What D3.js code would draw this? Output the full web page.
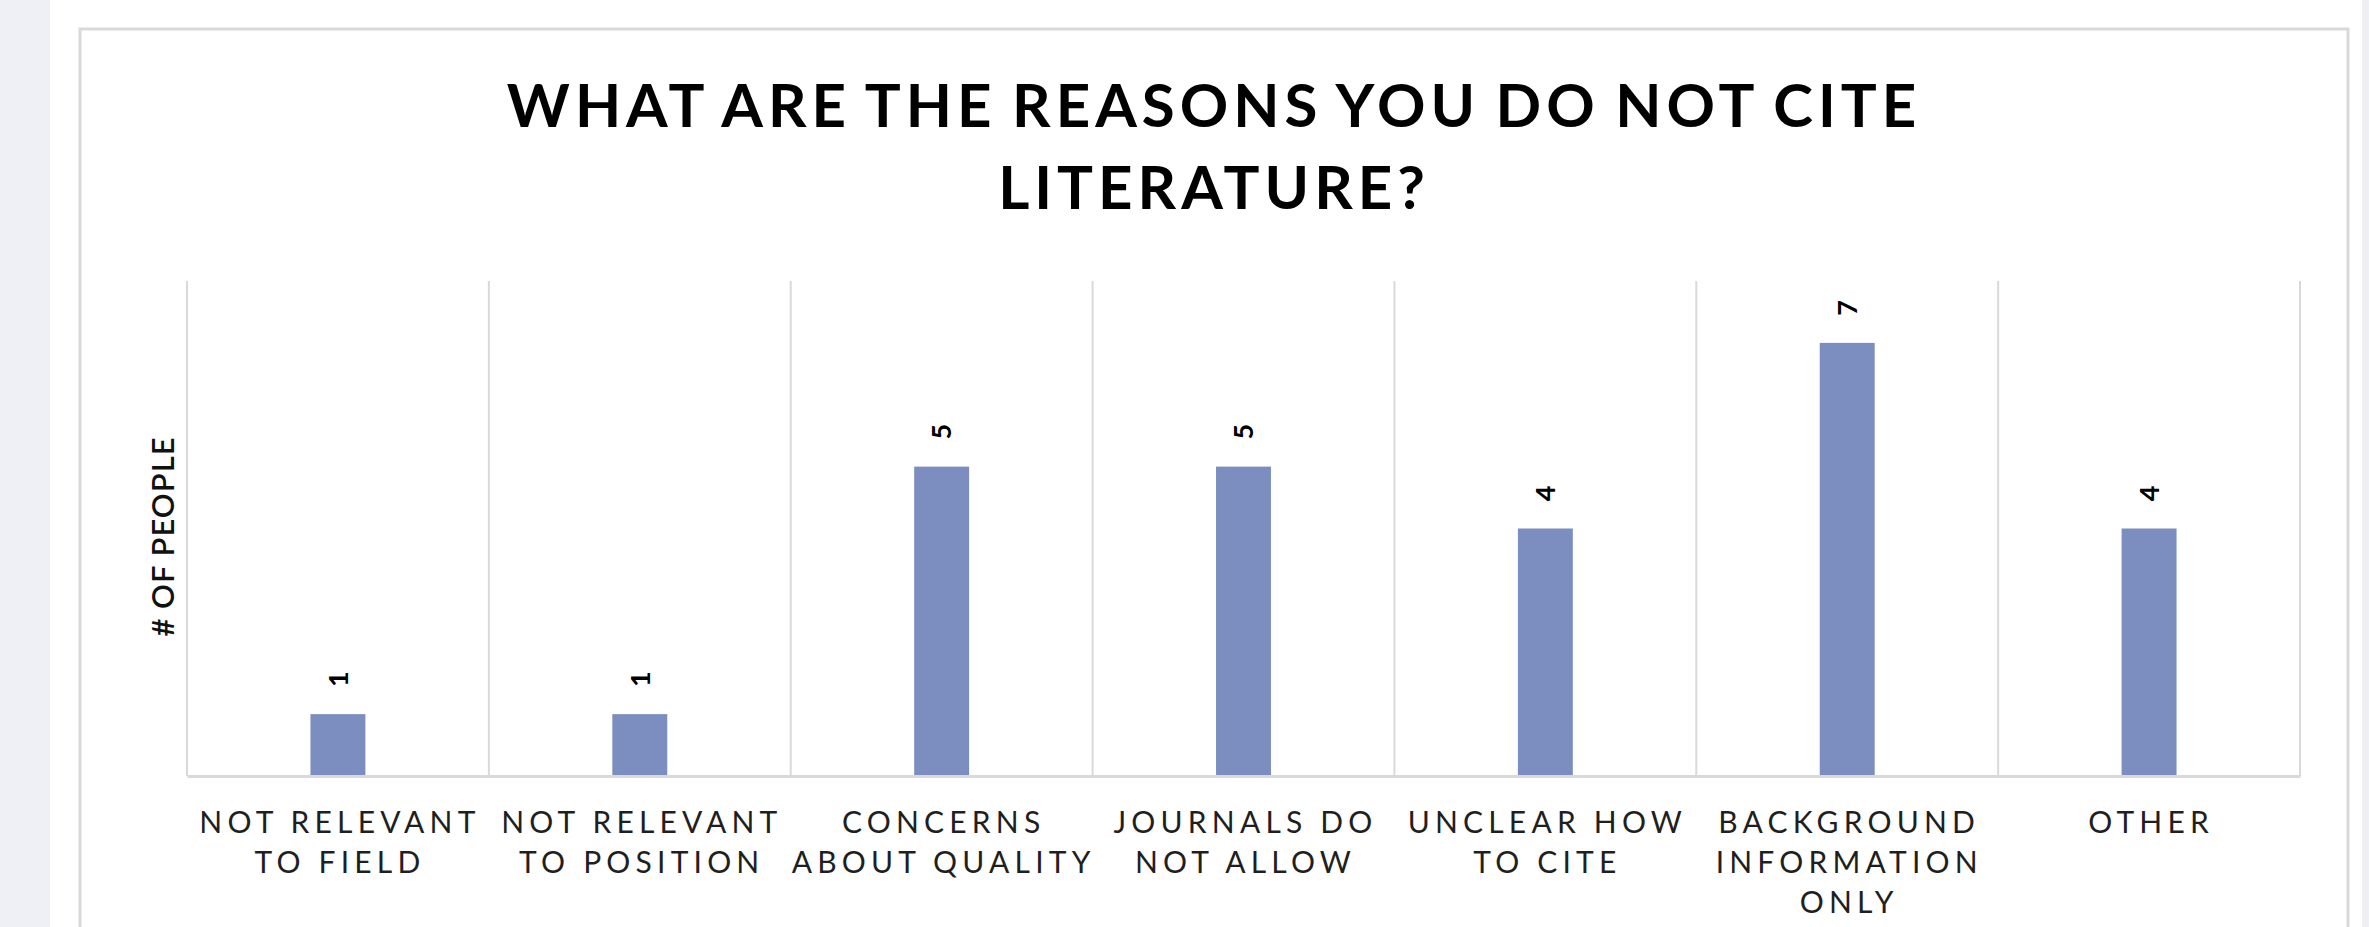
<!DOCTYPE html>
<html>
<head>
<meta charset="utf-8">
<script src="https://cdn.jsdelivr.net/npm/d3@7"></script>
<style>
  html, body { margin: 0; padding: 0; background: #fff; }
  svg { display: block; }
</style>
</head>
<body>
<div id="chart"></div>
<script>
// data
var categories = [
  'NOT RELEVANT TO FIELD',
  'NOT RELEVANT TO POSITION',
  'CONCERNS ABOUT QUALITY',
  'JOURNALS DO NOT ALLOW',
  'UNCLEAR HOW TO CITE',
  'BACKGROUND INFORMATION ONLY',
  'OTHER'
];
var labelLines = [
  ['NOT RELEVANT', 'TO FIELD'],
  ['NOT RELEVANT', 'TO POSITION'],
  ['CONCERNS', 'ABOUT QUALITY'],
  ['JOURNALS DO', 'NOT ALLOW'],
  ['UNCLEAR HOW', 'TO CITE'],
  ['BACKGROUND', 'INFORMATION', 'ONLY'],
  ['OTHER']
];
var people = [1, 1, 5, 5, 4, 7, 4];
var titleLines = ['WHAT ARE THE REASONS YOU DO NOT CITE', 'LITERATURE?'];
var yTitle = '# OF PEOPLE';

var W = 2369, H = 927;

var svg = d3.select('#chart')
    .append('svg')
        .attr('width', W)
        .attr('height', H);

// page background + card
svg.append('rect')
    .attr('x', 0).attr('y', 0)
    .attr('width', 50).attr('height', H)
    .style('fill', '#eef0f5');
svg.append('rect')
    .attr('x', 2362).attr('y', 0)
    .attr('width', 7).attr('height', H)
    .style('fill', '#eef0f5');
svg.append('rect')
    .attr('x', 80).attr('y', 29)
    .attr('width', 2268).attr('height', H)
    .style('fill', '#fff')
    .style('stroke', '#d9d9d9')
    .style('stroke-width', 3);

var margin = { left: 187, right: 2300, top: 281, bottom: 776 };

var x = d3.scaleBand()
    .domain(categories)
    .range([margin.left, margin.right])
    .padding(0);

var y = d3.scaleLinear()
    .domain([0, 8])
    .range([margin.bottom, margin.top]);

// vertical gridlines at category edges
var edges = categories.map(function(c) { return x(c); }).concat([margin.right]);
svg.selectAll('line.grid')
    .data(edges)
    .enter().append('line')
        .attr('class', 'grid')
        .attr('x1', function(d) { return d; })
        .attr('x2', function(d) { return d; })
        .attr('y1', y(8))
        .attr('y2', y(0))
        .attr('stroke', '#d9d9d9')
        .style('stroke-width', 2);

// bars
var barW = x.bandwidth() * 0.182;
svg.selectAll('rect.bar')
    .data(people)
    .enter().append('rect')
        .attr('class', 'bar')
        .attr('x', function(d, i) { return x(categories[i]) + (x.bandwidth() - barW) / 2; })
        .attr('y', function(d) { return y(d); })
        .attr('width', barW)
        .attr('height', function(d) { return y(0) - y(d); })
        .style('fill', '#7b8ebf');

// data labels, turned on their side
svg.selectAll('text.val')
    .data(people)
    .enter().append('text')
        .attr('class', 'val')
        .attr('transform', function(d, i) {
            var cx = x(categories[i]) + x.bandwidth() / 2;
            return 'translate(' + cx + ',' + (y(d) - 35) + ') rotate(-90)';
        })
        .attr('text-anchor', 'middle')
        .attr('dy', '0.36em')
        .style('font-family', 'Lato, sans-serif')
        .style('font-weight', 'bold')
        .style('font-size', '27px')
        .style('fill', '#000')
        .text(function(d) { return d; });

// category axis
var xAxis = svg.append('g')
    .attr('transform', 'translate(0,' + y(0) + ')')
    .call(d3.axisBottom(x).tickSize(0).tickSizeOuter(0).tickFormat(''));
xAxis.select('.domain')
    .attr('stroke', '#d9d9d9')
    .style('stroke-width', 3);

xAxis.selectAll('.tick text').remove();
xAxis.selectAll('.tick')
    .append('text')
        .attr('text-anchor', 'middle')
        .style('font-family', 'Lato, sans-serif')
        .style('font-size', '30px')
        .style('letter-spacing', '5.2px')
        .style('fill', '#1f1f1f')
        .each(function(d) {
            var lines = labelLines[categories.indexOf(d)];
            var t = d3.select(this);
            lines.forEach(function(l, k) {
                t.append('tspan')
                    .attr('x', 2)
                    .attr('y', 57 + k * 40)
                    .text(l);
            });
        });

// y axis title
svg.append('text')
    .attr('transform', 'translate(174,' + ((margin.top + margin.bottom) / 2 + 8) + ') rotate(-90)')
    .attr('text-anchor', 'middle')
    .style('font-family', 'Lato, sans-serif')
    .style('font-size', '31px')
    .style('font-weight', 600)
    .style('letter-spacing', '1px')
    .style('fill', '#111')
    .text(yTitle);

// chart title
svg.selectAll('text.title')
    .data(titleLines)
    .enter().append('text')
        .attr('class', 'title')
        .attr('x', (80 + 2348) / 2)
        .attr('y', function(d, i) { return 127 + i * 82; })
        .attr('text-anchor', 'middle')
        .style('font-family', 'Lato, sans-serif')
        .style('font-weight', 'bold')
        .style('font-size', '60px')
        .style('letter-spacing', '5px')
        .style('word-spacing', '-4px')
        .style('fill', '#000')
        .text(function(d) { return d; });
</script>
</body>
</html>
